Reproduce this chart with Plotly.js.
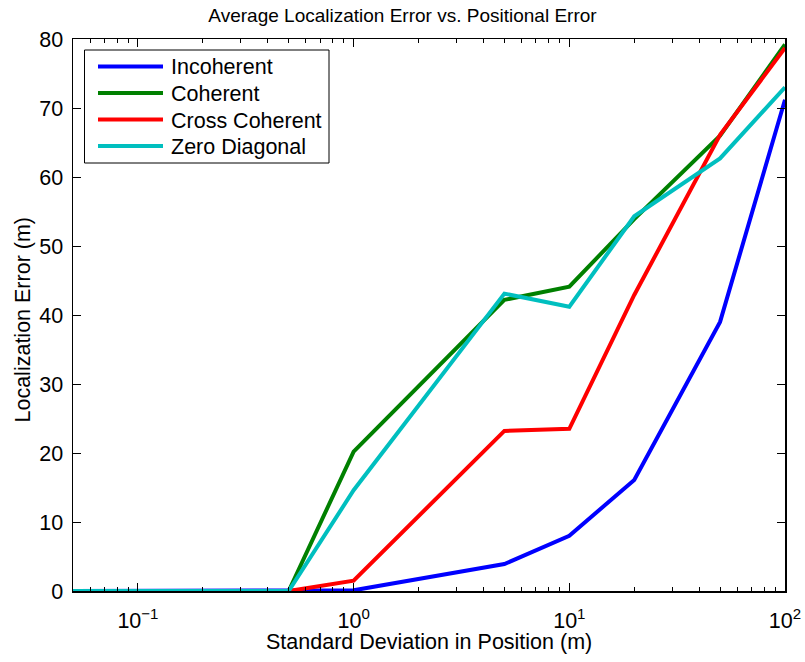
<!DOCTYPE html>
<html>
<head>
<meta charset="utf-8">
<script src="https://cdn.plot.ly/plotly-3.0.1.min.js"></script>
<style>
  html, body { margin: 0; padding: 0; background: #fff; }
  #chart { width: 805px; height: 662px; }
</style>
</head>
<body>
<div id="chart"></div>
<script>
// Standard deviation of the positional error (m)
const sigma = [0.05, 0.1, 0.5, 1, 5, 10, 20, 50, 100];

// Average localization error (m) per method
const incoherent    = [0, 0, 0, 0.1, 3.9, 8.0, 16.1, 39.0, 71.2];
const coherent      = [0, 0, 0, 20.2, 42.2, 44.1, 53.9, 66.0, 79.2];
const crossCoherent = [0, 0, 0, 1.5, 23.2, 23.5, 42.9, 66.1, 78.7];
const zeroDiagonal  = [0, 0, 0, 14.6, 43.1, 41.2, 54.3, 62.7, 73.0];

const seriesNames = ['Incoherent', 'Coherent', 'Cross Coherent', 'Zero Diagonal'];
const seriesColors = ['#0000ff', '#008000', '#ff0000', '#00bfbf'];
const seriesValues = [incoherent, coherent, crossCoherent, zeroDiagonal];

// Axis ticks
const xTickVals = [0.1, 1, 10, 100];
const xTickText = ['10<sup>−1</sup>', '10<sup>0</sup>', '10<sup>1</sup>', '10<sup>2</sup>'];
const xMinorVals = [0.05, 0.06, 0.07, 0.08, 0.09,
                    0.2, 0.3, 0.4, 0.5, 0.6, 0.7, 0.8, 0.9,
                    2, 3, 4, 5, 6, 7, 8, 9,
                    20, 30, 40, 50, 60, 70, 80, 90];
const yTickVals = [0, 10, 20, 30, 40, 50, 60, 70, 80];

const xTitle = 'Standard Deviation in Position (m)';
const yTitle = 'Localization Error (m)';
const chartTitle = 'Average Localization Error vs. Positional Error';

const font = 'Liberation Sans, Arial, Helvetica, sans-serif';
const labelSize = 21.5;
const W = 805, H = 662;
const M = { l: 73, r: 20, t: 39, b: 71 };
const plotW = W - M.l - M.r, plotH = H - M.t - M.b;

// pixel position -> paper coordinates
const px = v => (v - M.l) / plotW;
const py = v => (M.t + plotH - v) / plotH;

const traces = seriesNames.map((name, i) => ({
  x: sigma,
  y: seriesValues[i],
  name: name,
  type: 'scatter',
  mode: 'lines',
  line: { color: seriesColors[i], width: 4 },
  showlegend: false
}));

// Legend: framed box with long line samples
const legendBox = { x0: 84.5, x1: 329, y0: 50, y1: 163 };
const rowY0 = 66.5, rowStep = 26.5;
const shapes = [{
  type: 'rect', xref: 'paper', yref: 'paper',
  x0: px(legendBox.x0), x1: px(legendBox.x1),
  y0: py(legendBox.y1), y1: py(legendBox.y0),
  line: { color: '#000', width: 1 }, fillcolor: '#fff', layer: 'above'
}];
const annotations = [];
seriesNames.forEach((name, i) => {
  const y = rowY0 + i * rowStep;
  shapes.push({
    type: 'line', xref: 'paper', yref: 'paper',
    x0: px(98), x1: px(163), y0: py(y), y1: py(y),
    line: { color: seriesColors[i], width: 4 }, layer: 'above'
  });
  annotations.push({
    xref: 'paper', yref: 'paper', x: px(169), y: py(y + 1),
    xanchor: 'left', yanchor: 'middle', showarrow: false,
    text: name, font: { family: font, size: labelSize, color: '#000' }
  });
});

// Axis titles
annotations.push({
  xref: 'paper', yref: 'paper', x: 0.5, y: py(642),
  xanchor: 'center', yanchor: 'middle', showarrow: false,
  text: xTitle, font: { family: font, size: labelSize, color: '#000' }
});
annotations.push({
  xref: 'paper', yref: 'paper', x: px(22.5), y: py(320),
  xanchor: 'center', yanchor: 'middle', showarrow: false, textangle: -90,
  text: yTitle, font: { family: font, size: labelSize, color: '#000' }
});

const layout = {
  width: W,
  height: H,
  margin: M,
  paper_bgcolor: '#fff',
  plot_bgcolor: '#fff',
  font: { family: font, size: labelSize, color: '#000' },
  title: {
    text: chartTitle,
    font: { family: font, size: 19, color: '#000' },
    x: 0.5, xanchor: 'center', y: 1 - 15 / H, yanchor: 'middle'
  },
  showlegend: false,
  shapes: shapes,
  annotations: annotations,
  xaxis: {
    type: 'log',
    range: [Math.log10(0.05), 2],
    tickmode: 'array',
    tickvals: xTickVals,
    ticktext: xTickText,
    ticks: 'inside', ticklen: 8, tickwidth: 1, tickcolor: '#000',
    minor: { tickmode: 'array', tickvals: xMinorVals, ticks: 'inside', ticklen: 4, tickcolor: '#000', showgrid: false },
    showline: true, linecolor: '#000', linewidth: 1.5, mirror: 'ticks',
    showgrid: false, zeroline: false,
    ticklabelstandoff: 10,
    tickfont: { family: font, size: labelSize, color: '#000' }
  },
  yaxis: {
    range: [0, 80],
    tickmode: 'array',
    tickvals: yTickVals,
    ticks: 'inside', ticklen: 8, tickwidth: 1, tickcolor: '#000',
    showline: true, linecolor: '#000', linewidth: 1.5, mirror: 'ticks',
    showgrid: false, zeroline: false,
    ticklabelstandoff: 4,
    tickfont: { family: font, size: labelSize, color: '#000' }
  }
};

Plotly.newPlot('chart', traces, layout, { staticPlot: true, displayModeBar: false });
</script>
</body>
</html>
